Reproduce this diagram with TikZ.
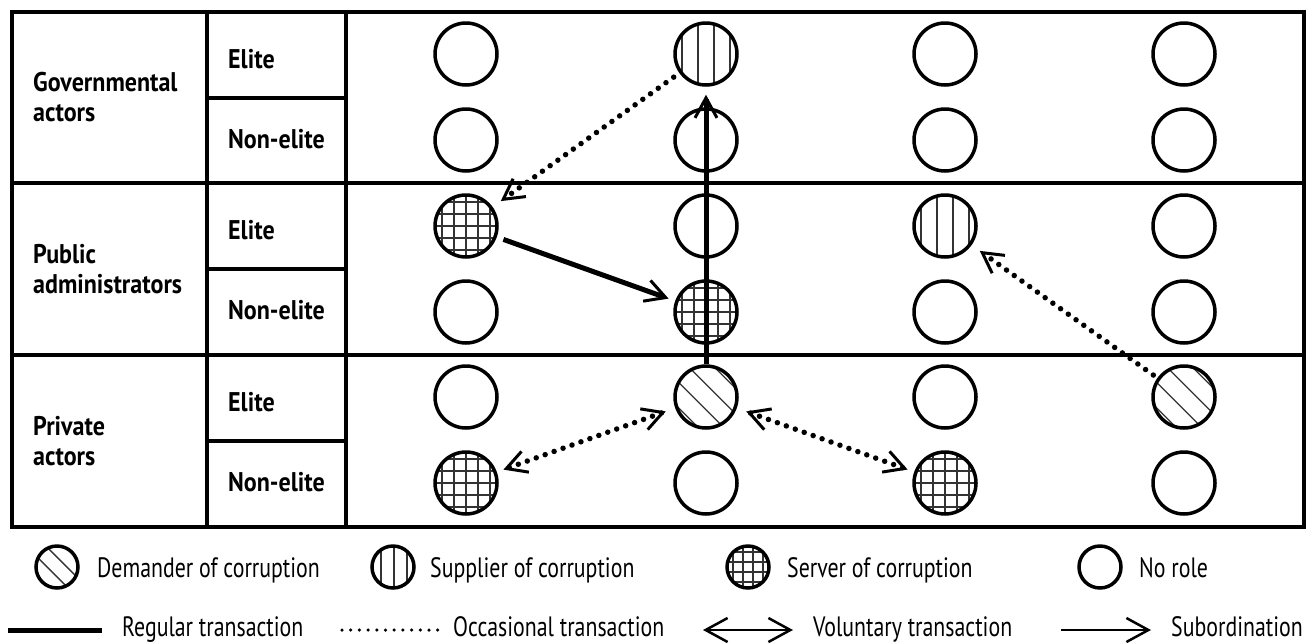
\documentclass[tikz,border=0pt]{standalone}
\usepackage{fontspec}
\setmainfont{PT Sans}[FakeStretch=0.78, BoldFeatures={FakeStretch=0.89}]
\usetikzlibrary{arrows.meta}

\tikzset{
  grid/.style={line width=3.3pt},
  role/.style={circle, draw, line width=3.5pt, minimum size=62pt},
  legrole/.style={role, minimum size=42pt},
  hatch/.style={line width=1.3pt, black!80},
  demander/.style={path picture={\foreach \d in {#1}
      \draw[hatch] ([xshift={\d*0.7071pt-50pt}, yshift={\d*0.7071pt+50pt}]path picture bounding box.center) -- ++(100pt,-100pt);}},
  demander/.default={-27,-9,9,27},
  supplier/.style={path picture={\foreach \d in {#1}
      \draw[hatch] ([xshift=\d pt]path picture bounding box.north) -- ([xshift=\d pt]path picture bounding box.south);}},
  supplier/.default={-24,-8,8,24},
  server/.style={path picture={\foreach \d in {#1} {
      \draw[hatch] ([xshift=\d pt]path picture bounding box.north) -- ([xshift=\d pt]path picture bounding box.south);
      \draw[hatch] ([yshift=\d pt]path picture bounding box.west) -- ([yshift=\d pt]path picture bounding box.east);}}},
  server/.default={-24,-12,0,12,24},
  actor/.style={anchor=west, align=left, font=\bfseries\fontsize{27}{30}\selectfont},
  rank/.style={anchor=base west, font=\bfseries\fontsize{27}{30}\selectfont},
  legtext/.style={anchor=base west, font=\fontsize{28}{32}\selectfont},
  regular/.style={line width=5pt},
  occasional/.style={line width=5.5pt, line cap=round, dash pattern=on 0pt off 9.5pt},
  thintip/.style={line width=1.5pt, arrows={-Straight Barb[length=22pt, width=24pt, line width=2.5pt]}},
}

\begin{document}
\begin{tikzpicture}[x=1pt, y=-1pt, every node/.style={inner sep=0pt},
    >={Straight Barb[length=20pt, width=22pt, line width=3pt]}]
    \useasboundingbox (0,0) rectangle (1314,643);
    % table
    \draw[grid] (12,12) rectangle (1304,527);
    \draw[grid] (12,183) -- (1304,183) (12,355) -- (1304,355);
    \draw[grid] (207,12) -- (207,527) (346,12) -- (346,527);
    \draw[grid] (207,98) -- (346,98) (207,269) -- (346,269) (207,441) -- (346,441);

    \node[actor] at (33,97) {Governmental\\actors};
    \node[actor] at (33,269) {Public\\administrators};
    \node[actor] at (33,441) {Private\\actors};
    \node[rank] at (228,68) {Elite};
    \node[rank] at (228,148) {Non-elite};
    \node[rank] at (228,239) {Elite};
    \node[rank] at (228,319) {Non-elite};
    \node[rank] at (228,411) {Elite};
    \node[rank] at (228,491) {Non-elite};

    % actors
    \node[role] (gove1) at (466,54) {};
    \node[role, supplier] (gove2) at (706,54) {};
    \node[role] (gove3) at (945,54) {};
    \node[role] (gove4) at (1184,54) {};
    \node[role] (govn1) at (466,140) {};
    \node[role] (govn2) at (706,140) {};
    \node[role] (govn3) at (945,140) {};
    \node[role] (govn4) at (1184,140) {};
    \node[role, server] (pube1) at (466,226) {};
    \node[role] (pube2) at (706,226) {};
    \node[role, supplier] (pube3) at (945,226) {};
    \node[role] (pube4) at (1184,226) {};
    \node[role] (pubn1) at (466,312) {};
    \node[role, server] (pubn2) at (706,312) {};
    \node[role] (pubn3) at (945,312) {};
    \node[role] (pubn4) at (1184,312) {};
    \node[role] (prie1) at (466,397) {};
    \node[role, demander] (prie2) at (706,397) {};
    \node[role] (prie3) at (945,397) {};
    \node[role, demander] (prie4) at (1184,397) {};
    \node[role, server] (prin1) at (466,483) {};
    \node[role] (prin2) at (706,483) {};
    \node[role, server] (prin3) at (945,483) {};
    \node[role] (prin4) at (1184,483) {};

    % transactions
    \draw[occasional, ->, shorten <=7pt, shorten >=10pt] (gove2) -- (pube1);
    \draw[regular, ->, shorten <=7pt, shorten >=7pt] (pube1) -- (pubn2);
    \draw[regular, ->, shorten >=8pt] (prie2) -- (gove2);
    \draw[occasional, <->, shorten <=10pt, shorten >=7pt] (prie2) -- (prin1);
    \draw[occasional, <->, shorten <=10pt, shorten >=7pt] (prie2) -- (prin3);
    \draw[occasional, ->, shorten <=5pt, shorten >=10pt] (prie4) -- (pube3);

    % legend
    \node[legrole, demander={-7,7}] (kdem) at (57,567) {};
    \node[legtext] at (97,577) {Demander of corruption};
    \node[legrole, supplier={-12,1,14}] (ksup) at (393,567) {};
    \node[legtext] at (430,577) {Supplier of corruption};
    \node[legrole, server={-15,-5,5,15}] (kser) at (748,567) {};
    \node[legtext] at (787,577) {Server of corruption};
    \node[legrole] (knone) at (1100,567) {};
    \node[legtext] at (1139,577) {No role};

    \coordinate (reg-a) at (8,630);
    \coordinate (reg-b) at (102,630);
    \coordinate (occ-a) at (342,630);
    \coordinate (occ-b) at (438,630);
    \coordinate (vol-a) at (703,630);
    \coordinate (vol-b) at (793,630);
    \coordinate (sub-a) at (1061,630);
    \coordinate (sub-b) at (1151,630);
    \draw[regular] (reg-a) -- (reg-b);
    \node[legtext] at (122,636) {Regular transaction};
    \draw[line width=3.5pt, line cap=round, dash pattern=on 0pt off 8.7pt] (occ-a) -- (occ-b);
    \node[legtext] at (453,636) {Occasional transaction};
    \draw[thintip, arrows={Straight Barb[length=22pt, width=24pt, line width=2.5pt]-Straight Barb[length=22pt, width=24pt, line width=2.5pt]}] (vol-a) -- (vol-b);
    \node[legtext] at (813,636) {Voluntary transaction};
    \draw[thintip] (sub-a) -- (sub-b);
    \node[legtext] at (1171,636) {Subordination};
\end{tikzpicture}
\end{document}
